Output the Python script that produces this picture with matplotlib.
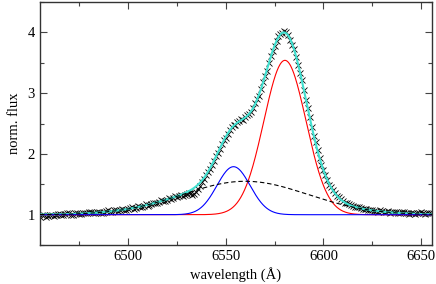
import numpy as np
import matplotlib
matplotlib.use("Agg")
import matplotlib.pyplot as plt
from matplotlib.ticker import MultipleLocator

plt.rcParams['font.family'] = ['Liberation Serif', 'DejaVu Serif']

# observed spectrum (wavelength in Angstrom, normalised flux), sampled at 1 A
wave_obs_a = list(range(6455, 6656, 2))
flux_obs_a = [0.97, 0.99, 0.98, 1.00, 0.99, 1.01, 1.00, 1.02, 1.00, 1.02,
              1.01, 1.03, 1.02, 1.04, 1.02, 1.05, 1.03, 1.06, 1.05, 1.07,
              1.06, 1.09, 1.08, 1.11, 1.10, 1.14, 1.13, 1.17, 1.16, 1.20,
              1.19, 1.24, 1.22, 1.27, 1.28, 1.29, 1.33, 1.32, 1.36, 1.33,
              1.37, 1.48, 1.59, 1.71, 1.82, 1.96, 2.08, 2.23, 2.33, 2.45,
              2.48, 2.55, 2.56, 2.64, 2.69, 2.83, 2.96, 3.18, 3.36, 3.61,
              3.77, 3.94, 3.99, 4.00, 3.87, 3.73, 3.46, 3.22, 2.88, 2.61,
              2.29, 2.07, 1.82, 1.66, 1.49, 1.40, 1.31, 1.26, 1.20, 1.18,
              1.14, 1.13, 1.11, 1.10, 1.08, 1.08, 1.06, 1.07, 1.05, 1.06,
              1.04, 1.05, 1.03, 1.04, 1.02, 1.03, 1.01, 1.03, 1.02, 1.03,
              1.02]
wave_obs_b = list(range(6456, 6655, 2))
flux_obs_b = [0.99, 0.97, 1.00, 0.98, 1.01, 0.99, 1.01, 1.02, 1.00, 1.03,
              1.01, 1.02, 1.04, 1.02, 1.04, 1.03, 1.05, 1.07, 1.05, 1.08,
              1.07, 1.08, 1.10, 1.12, 1.11, 1.13, 1.15, 1.14, 1.18, 1.20,
              1.21, 1.22, 1.25, 1.26, 1.30, 1.31, 1.31, 1.34, 1.35, 1.34,
              1.42, 1.53, 1.65, 1.76, 1.88, 2.02, 2.17, 2.27, 2.40, 2.47,
              2.52, 2.57, 2.60, 2.66, 2.76, 2.90, 3.07, 3.29, 3.49, 3.70,
              3.86, 3.97, 4.02, 3.95, 3.80, 3.60, 3.33, 3.05, 2.75, 2.44,
              2.19, 1.93, 1.74, 1.57, 1.45, 1.36, 1.29, 1.22, 1.19, 1.16,
              1.12, 1.12, 1.09, 1.09, 1.07, 1.06, 1.04, 1.06, 1.04, 1.03,
              1.05, 1.02, 1.04, 1.03, 1.01, 1.03, 1.02, 1.04, 1.01, 1.03]

# Gaussian fit components: broad, blue (narrow blue-shifted), red (main)
comp_names = ['broad', 'blue', 'red']
comp_center = [6560.0, 6554.0, 6580.3]
comp_height = [0.55, 0.79, 2.54]
comp_sigma = [32.0, 8.5, 10.8]
continuum = 1.0

wave_model = np.linspace(6455, 6656, 800)
comps = {}
for n, c, h, s in zip(comp_names, comp_center, comp_height, comp_sigma):
    comps[n] = h * np.exp(-(wave_model - c) ** 2 / (2 * s ** 2))
total = continuum + comps['broad'] + comps['blue'] + comps['red']

wave_obs = np.array(wave_obs_a + wave_obs_b)
flux_obs = np.array(flux_obs_a + flux_obs_b)
order = np.argsort(wave_obs)
wave_obs, flux_obs = wave_obs[order], flux_obs[order]

fig = plt.figure(figsize=(4.36, 2.84), dpi=100)
ax = fig.add_axes([0.0917, 0.137, 0.899, 0.856])

ax.plot(wave_obs, flux_obs, linestyle='none', marker='x', color='black',
        markersize=5, markeredgewidth=0.6, zorder=2)
ax.plot(wave_model, total, color='#40E0D0', lw=1.5, zorder=3)
ax.plot(wave_model, continuum + comps['red'], color='red', lw=0.8, zorder=4)
ax.plot(wave_model, continuum + comps['blue'], color='blue', lw=0.8, zorder=5)
ax.plot(wave_model, continuum + comps['broad'], color='black', lw=0.8,
        linestyle=(0, (4, 2.5)), zorder=6)

ax.set_xlim(6455, 6655.5)
ax.set_ylim(0.5, 4.5)
ax.xaxis.set_major_locator(MultipleLocator(50))
ax.xaxis.set_minor_locator(MultipleLocator(25))
ax.yaxis.set_major_locator(MultipleLocator(1))
ax.yaxis.set_minor_locator(MultipleLocator(0.5))
ax.tick_params(which='both', direction='in', top=True, right=True,
               labelsize=10.5, color='#444444')
ax.tick_params(which='major', length=5, width=0.8)
ax.tick_params(which='minor', length=3, width=0.8)
for sp in ax.spines.values():
    sp.set_linewidth(1.0)
    sp.set_color('#333333')

ax.set_xlabel('wavelength (Å)', fontsize=10.5, labelpad=3)
ax.set_ylabel('norm. flux', fontsize=10.5, labelpad=5)

fig.savefig('out.png', dpi=100)
